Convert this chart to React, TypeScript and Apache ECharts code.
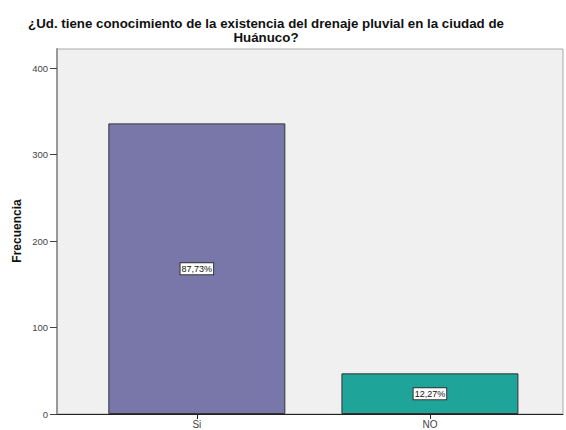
import React, { useEffect, useRef } from "react";
import * as echarts from "echarts";

const titleText = "¿Ud. tiene conocimiento de la existencia del drenaje pluvial en la ciudad de\nHuánuco?";
const categories = ["Si", "NO"];
const frequencies = [336, 47];
const percentLabels = ["87,73%", "12,27%"];
const barColors = ["#7977aa", "#1fa49a"];
const yTicks = { min: 0, max: 422, interval: 100 };

export default function App() {
  const ref = useRef<HTMLDivElement>(null);
  useEffect(() => {
    if (!ref.current) return;
    const chart = echarts.init(ref.current, undefined, { renderer: "svg" });
    chart.setOption({
      animation: false,
      backgroundColor: "#ffffff",
      textStyle: { fontFamily: "Liberation Sans, Arial, sans-serif" },
      graphic: [
        {
          type: "text",
          x: 266,
          y: 16,
          style: {
            text: titleText,
            textAlign: "center",
            font: "bold 13.3px 'Liberation Sans', Arial, sans-serif",
            lineHeight: 14,
            fill: "#111",
          },
        },
        {
          type: "text",
          x: 17,
          y: 231,
          rotation: Math.PI / 2,
          style: {
            text: "Frecuencia",
            textAlign: "center",
            textVerticalAlign: "middle",
            font: "bold 12px 'Liberation Sans', Arial, sans-serif",
            fill: "#111",
          },
        },
      ],
      grid: {
        left: 57,
        top: 49,
        right: 3,
        bottom: 16,
        show: true,
        backgroundColor: "#f0f0f0",
        borderColor: "#a8a8a8",
        borderWidth: 1,
      },
      xAxis: {
        type: "value",
        min: -0.6,
        max: 1.571,
        splitLine: { show: false },
        axisLine: { show: true, onZero: false, lineStyle: { color: "#222", width: 1 } },
        axisTick: {
          show: true,
          customValues: [0, 1],
          length: 5,
          lineStyle: { color: "#222" },
        },
        axisLabel: {
          customValues: [0, 1],
          formatter: (v: number) => categories[Math.round(v)] ?? "",
          fontSize: 10,
          color: "#444",
          margin: 5,
        },
      },
      yAxis: {
        type: "value",
        min: yTicks.min,
        max: yTicks.max,
        interval: yTicks.interval,
        splitLine: { show: false },
        axisLine: { show: true, onZero: false, lineStyle: { color: "#999", width: 2 } },
        axisTick: { show: true, length: 7, lineStyle: { color: "#444" } },
        axisLabel: {
          fontSize: 9.5,
          color: "#444",
          margin: 9,
          showMaxLabel: false,
          formatter: (v: number) => (v % 100 === 0 ? String(v) : ""),
        },
      },
      series: [
        {
          type: "bar",
          barWidth: 177,
          data: frequencies.map((f, i) => ({
            value: [i, f],
            itemStyle: { color: barColors[i], borderColor: "#333", borderWidth: 1 },
            label: {
              show: true,
              position: "inside",
              formatter: percentLabels[i],
              fontSize: 9,
              color: "#111",
              backgroundColor: "#ffffff",
              borderColor: "#333",
              borderWidth: 1,
              padding: [1, 1],
            },
          })),
        },
      ],
    });
    return () => chart.dispose();
  }, []);
  return <div ref={ref} style={{ width: 566, height: 430, position: "absolute", left: 0, top: 0 }} />;
}
